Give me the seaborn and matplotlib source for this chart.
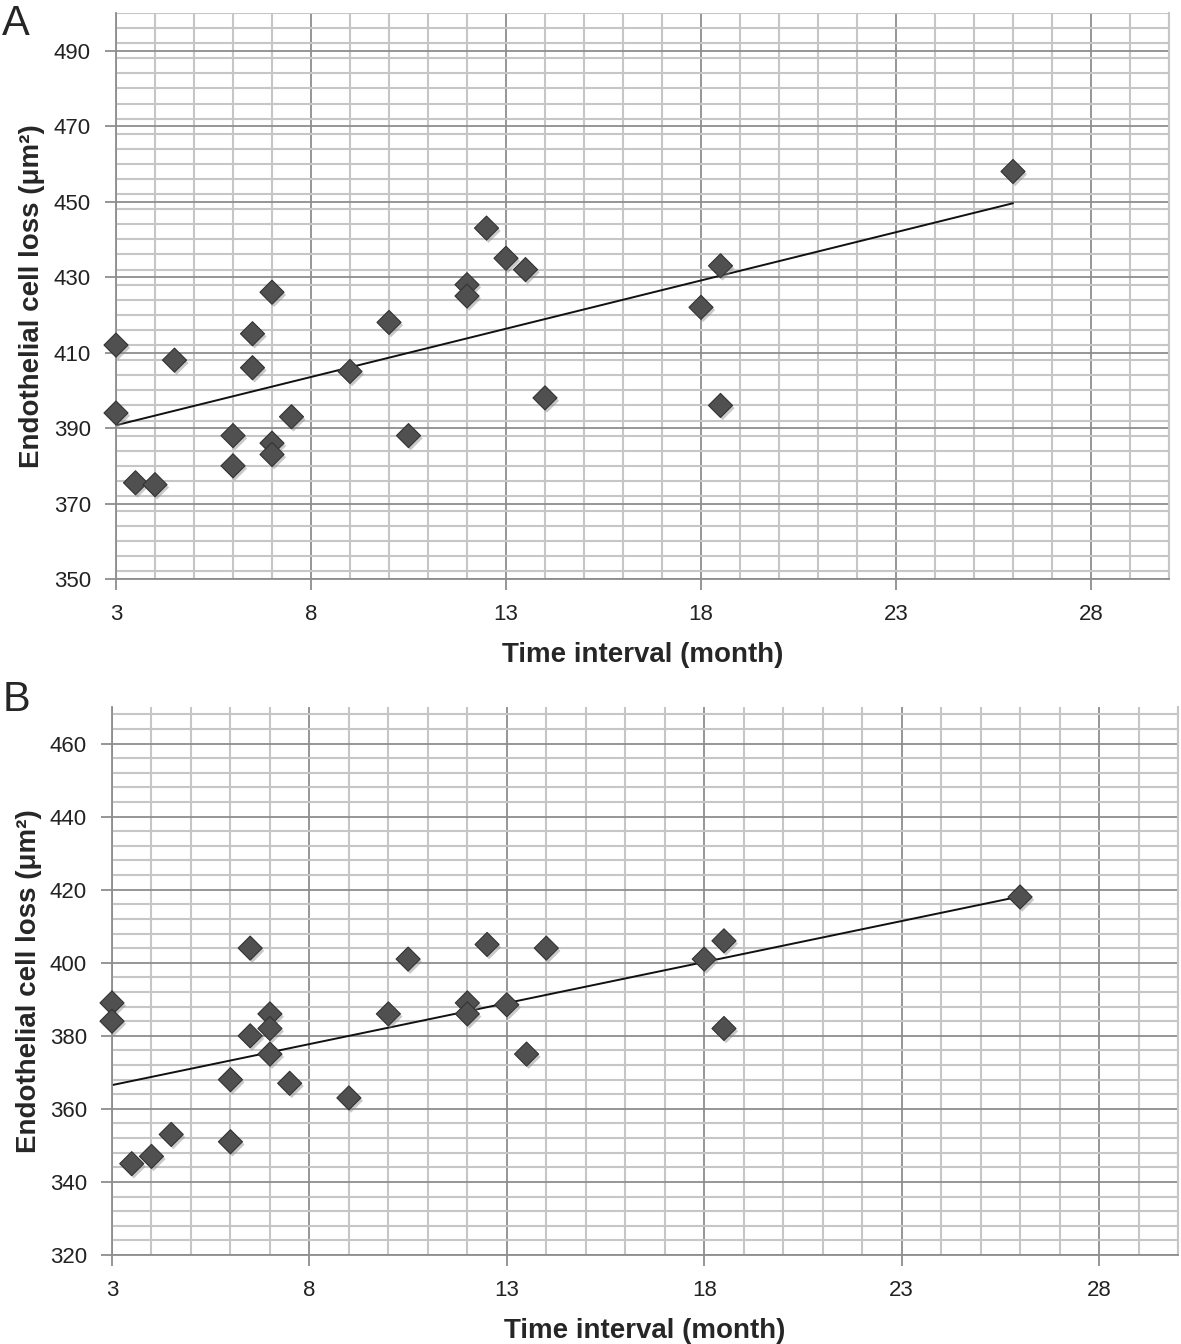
import pandas as pd
import matplotlib
matplotlib.use("Agg")
import matplotlib.pyplot as plt
import matplotlib.patheffects as pe
from matplotlib.ticker import MultipleLocator, FixedLocator
import seaborn as sns

sns.set_theme(style="white")
plt.rcParams['font.family'] = ['Liberation Sans', 'DejaVu Sans']

### Data ###

months = [3, 3, 3.5, 4, 4.5, 6, 6, 6.5, 6.5, 7, 7, 7, 7.5, 9, 10, 10.5,
          12, 12, 12.5, 13, 13.5, 14, 18, 18.5, 18.5, 26]
loss_a = [412, 394, 375.5, 375, 408, 388, 380, 415, 406, 426, 386, 383, 393, 405, 418, 388,
          428, 425, 443, 435, 432, 398, 422, 433, 396, 458]
loss_b = [389, 384, 345, 347, 353, 368, 351, 380, 404, 386, 382, 375, 367, 363, 386, 401,
          389, 386, 405, 388.5, 375, 404, 401, 406, 382, 418]

x_ticks = [3, 8, 13, 18, 23, 28]
y_ticks_a = [350, 370, 390, 410, 430, 450, 470, 490]
y_ticks_b = [320, 340, 360, 380, 400, 420, 440, 460]

df_a = pd.DataFrame({"month": months, "loss": loss_a})
df_b = pd.DataFrame({"month": months, "loss": loss_b})

W, H = 1181, 1344
fig = plt.figure(figsize=(W / 100, H / 100), dpi=100)


def px_axes(left, top, right, bottom):
    return fig.add_axes([left / W, 1 - bottom / H, (right - left) / W, (bottom - top) / H])


def draw_panel(ax, df, yticks, ylim):
    ax.set_axisbelow(True)
    sns.scatterplot(data=df, x="month", y="loss", marker="D", s=150,
                    color="#505050", edgecolor="#333333", linewidth=0.8, ax=ax, zorder=3)
    pts = ax.collections[-1]
    pts.set_clip_on(False)
    pts.set_path_effects([
        pe.SimplePatchShadow(offset=(1.5, -2), shadow_rgbFace="#888888", alpha=0.45),
        pe.Normal()])
    sns.regplot(data=df, x="month", y="loss", scatter=False, ci=None, truncate=True,
                line_kws={"color": "#111111", "lw": 1.4, "zorder": 2}, ax=ax)
    ax.set_xlim(3, 30)
    ax.set_ylim(*ylim)
    ax.xaxis.set_major_locator(FixedLocator(x_ticks))
    ax.xaxis.set_minor_locator(MultipleLocator(1))
    ax.yaxis.set_major_locator(FixedLocator(yticks))
    ax.yaxis.set_minor_locator(MultipleLocator(4))
    ax.grid(which="minor", color="#c6c6c6", lw=1.5)
    ax.grid(which="major", color="#8e8e8e", lw=1.3)
    ax.spines["top"].set_visible(False)
    ax.spines["right"].set_color("#c6c6c6")
    ax.spines["right"].set_linewidth(1.5)
    for s in ["left", "bottom"]:
        ax.spines[s].set_color("#8e8e8e")
        ax.spines[s].set_linewidth(1.3)
    ax.tick_params(which="major", direction="out", length=8, width=1.3, color="#8e8e8e",
                   labelsize=16, labelcolor="#222222", left=True, bottom=True)
    ax.tick_params(which="minor", length=0)
    ax.tick_params(axis="y", pad=10)
    ax.tick_params(axis="x", pad=10)
    ax.set_xlabel("Time interval (month)", fontsize=20, fontweight="bold", labelpad=12)
    ax.set_ylabel("Endothelial cell loss (μm²)", fontsize=20, fontweight="bold", labelpad=6)


ax_a = px_axes(116, 13, 1169, 579)
draw_panel(ax_a, df_a, y_ticks_a, (350, 500))

ax_b = px_axes(112, 707, 1178, 1255)
draw_panel(ax_b, df_b, y_ticks_b, (320, 470))

fig.text(0.002, 0.997, "A", fontsize=30, va="top", ha="left")
fig.text(0.002, 1 - 680 / H, "B", fontsize=30, va="top", ha="left")

fig.savefig("out.png", dpi=100)
